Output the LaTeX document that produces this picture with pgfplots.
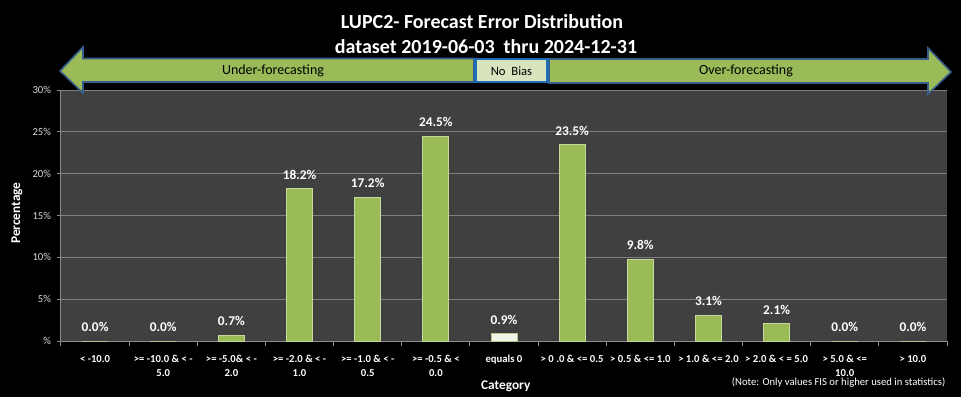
\documentclass[border=0pt]{standalone}
\usepackage{fontspec}
\setmainfont{Carlito}
\usepackage{pgfplots}
\pgfplotsset{compat=1.18}
\definecolor{bargreen}{HTML}{9BBB59}
\definecolor{baredge}{HTML}{C5D99C}
\definecolor{barwhite}{HTML}{F2F5EA}
\definecolor{barwhiteedge}{HTML}{B5C98E}
\definecolor{plotbg}{HTML}{404040}
\definecolor{gridgrey}{HTML}{7F7F7F}
\definecolor{axisgrey}{HTML}{8C8C8C}
\definecolor{arrowedge}{HTML}{385D8A}
\definecolor{boxfill}{HTML}{D7E4BD}
\definecolor{boxedge}{HTML}{1F6BB5}
\definecolor{ticktext}{HTML}{D9D9D9}
\begin{document}
\begin{tikzpicture}
\begin{scope}[x=0.75pt,y=-0.75pt]
\fill[black] (0,0) rectangle (961,397);
\end{scope}
\begin{axis}[
  at={(45.75pt,-255.75pt)}, anchor=south west,
  scale only axis, width=664.5pt, height=188.25pt,
  xmin=-0.5, xmax=12.5, ymin=0, ymax=30,
  /pgf/number format/assume math mode=true,
  axis background/.style={fill=plotbg},
  axis x line*=bottom, axis y line*=left,
  axis line style={draw=axisgrey, line width=0.75pt, -},
  ytick={0,5,...,30},
  yticklabels={\%,5\%,10\%,15\%,20\%,25\%,30\%},
  yticklabel style={text=ticktext, font=\fontsize{8}{9}\selectfont, xshift=-1pt},
  ymajorgrids, major grid style={draw=gridgrey, line width=0.75pt},
  tick align=outside,
  major tick length=3pt, minor tick length=4pt,
  tick style={draw=axisgrey, line width=0.75pt},
  xtick={0,...,12},
  major x tick style={draw=none},
  minor xtick={-0.5,0.5,...,12.5},
  xticklabels={
    {< -10.0},
    {>= -10.0 \& < -\\5.0},
    {>= -5.0\& < -\\2.0},
    {>= -2.0 \& < -\\1.0},
    {>= -1.0 \& < -\\0.5},
    {>= -0.5 \& <\\0.0},
    {equals 0},
    {> 0 .0 \& <= 0.5},
    {> 0.5 \& <= 1.0},
    {> 1.0 \& <= 2.0},
    {> 2.0 \& < = 5.0},
    {> 5.0 \& <=\\10.0},
    {> 10.0}},
  xticklabel style={text=white, align=center, font=\fontsize{8}{10.5}\selectfont\bfseries, yshift=-4pt},
  ybar, bar width=19.5pt, bar shift=0pt,
  nodes near coords={\pgfmathprintnumber[fixed,fixed zerofill,precision=1,assume math mode=true]{\pgfplotspointmeta}\%},
  every node near coord/.append style={text=white, font=\fontsize{10}{12}\selectfont\bfseries, anchor=south, inner sep=0pt, yshift=6.5pt},
  xlabel={Category},
  xlabel style={at={(rel axis cs:0.502,-0.179)}, anchor=center, text=white, font=\fontsize{10}{12}\selectfont\bfseries},
  ylabel={Percentage},
  ylabel style={at={(rel axis cs:-0.0497,0.51)}, anchor=center, rotate=0, text=white, font=\fontsize{10}{12}\selectfont\bfseries},
  clip=false,
]
\addplot[fill=bargreen, draw=baredge, line width=0.75pt] coordinates {
  (0,0.0) (1,0.0) (2,0.7) (3,18.2) (4,17.2) (5,24.5)
  (7,23.5) (8,9.8) (9,3.1) (10,2.1) (11,0.0) (12,0.0)};
\addplot[fill=barwhite, draw=barwhiteedge, line width=0.75pt] coordinates {(6,0.9)};
\end{axis}
\begin{scope}[x=0.75pt,y=-0.75pt]
\node[text=white, font=\fontsize{15}{18}\selectfont\bfseries] at (482,22) {LUPC2- Forecast Error Distribution};
\node[text=white, font=\fontsize{15}{18}\selectfont\bfseries] at (486,47) {dataset 2019-06-03~ thru 2024-12-31};
\draw[fill=bargreen, draw=arrowedge, line width=1.2pt, line join=miter]
  (60,71) -- (83,47) -- (83,58.5) -- (474,58.5) -- (474,82) -- (83,82) -- (83,93) -- cycle;
\draw[fill=bargreen, draw=arrowedge, line width=1.2pt, line join=miter]
  (549,59) -- (928,59) -- (928,48) -- (951,72) -- (928,94) -- (928,83) -- (549,83) -- cycle;
\draw[fill=boxfill, draw=boxedge, line width=1.6pt] (475.5,59) rectangle (547.5,82);
\node[font=\fontsize{9.5}{11}\selectfont] at (511.5,71) {No~~Bias};
\node[font=\fontsize{10.5}{12}\selectfont] at (273,71) {Under-forecasting};
\node[font=\fontsize{10.5}{12}\selectfont] at (746,71) {Over-forecasting};
\node[text=white, font=\fontsize{8}{10}\selectfont, anchor=east] at (950,383) {(Note: Only values FIS or higher used in statistics)};
\end{scope}
\end{tikzpicture}
\end{document}
